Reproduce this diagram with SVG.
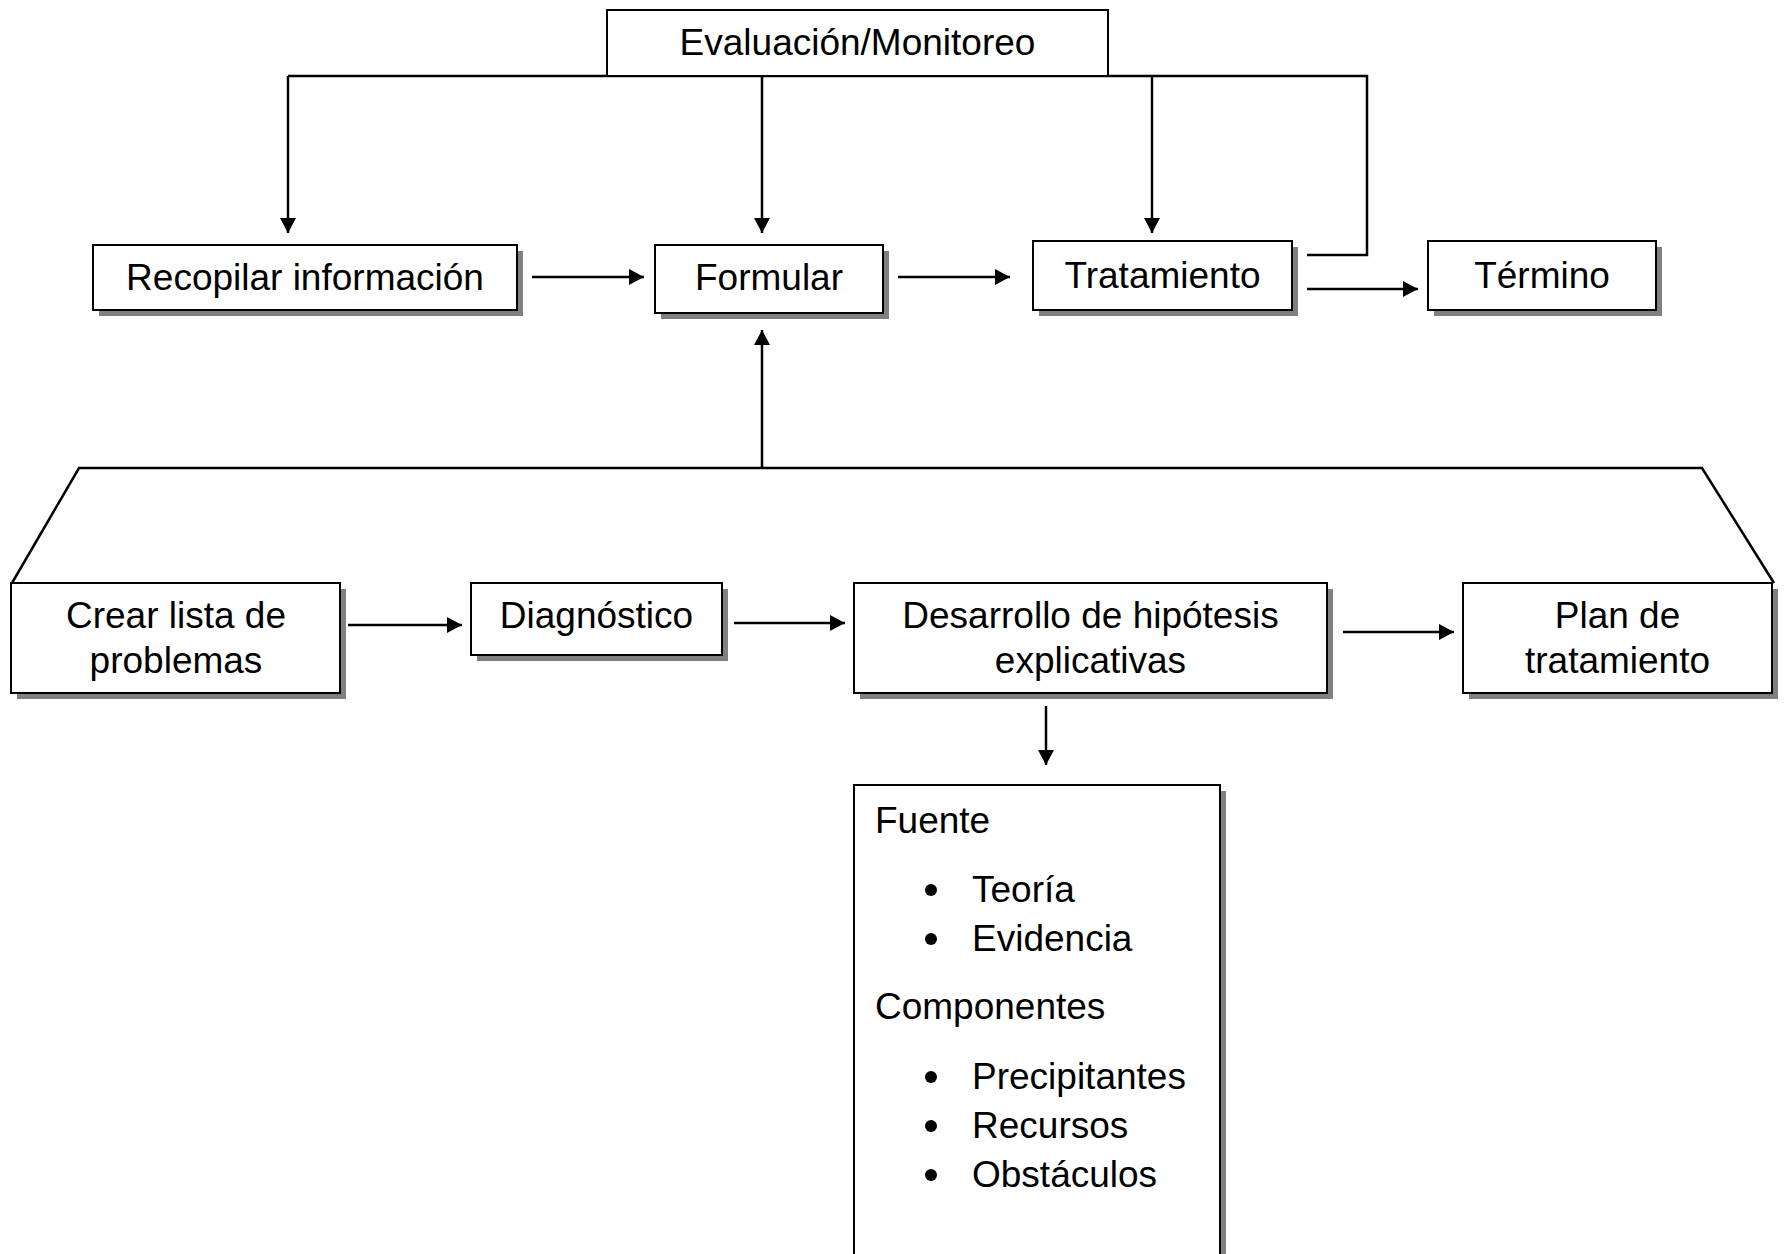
<svg xmlns="http://www.w3.org/2000/svg" width="1785" height="1254" viewBox="0 0 1785 1254">
<style>
.box{fill:#fff;stroke:#000;stroke-width:2}
.sh{fill:#808080}
.t{font-family:"Liberation Sans",Arial,sans-serif;font-size:37px;fill:#000}
.c{text-anchor:middle}
.ln{fill:none;stroke:#000;stroke-width:2.5}
</style>
<defs>
<marker id="ah" markerUnits="userSpaceOnUse" markerWidth="16" markerHeight="17" refX="15" refY="8" orient="auto">
<path d="M0,0 L15,8 L0,16 z" fill="#000"/>
</marker>
</defs>
<rect width="1785" height="1254" fill="#fff"/>
<g id="connectors">
<polyline class="ln" points="288,76 1367,76 1367,255 1307,255"/>
<line class="ln" x1="288" y1="76" x2="288" y2="233" marker-end="url(#ah)"/>
<line class="ln" x1="762" y1="76" x2="762" y2="233" marker-end="url(#ah)"/>
<line class="ln" x1="1152" y1="76" x2="1152" y2="233" marker-end="url(#ah)"/>
<line class="ln" x1="532" y1="277" x2="644" y2="277" marker-end="url(#ah)"/>
<line class="ln" x1="898" y1="277" x2="1010" y2="277" marker-end="url(#ah)"/>
<line class="ln" x1="1307" y1="289" x2="1418" y2="289" marker-end="url(#ah)"/>
<polyline class="ln" points="12,583 79,468 1702,468 1774,583"/>
<line class="ln" x1="762" y1="468" x2="762" y2="330" marker-end="url(#ah)"/>
<line class="ln" x1="348" y1="625" x2="462" y2="625" marker-end="url(#ah)"/>
<line class="ln" x1="734" y1="623" x2="845" y2="623" marker-end="url(#ah)"/>
<line class="ln" x1="1343" y1="632" x2="1454" y2="632" marker-end="url(#ah)"/>
<line class="ln" x1="1046" y1="706" x2="1046" y2="765" marker-end="url(#ah)"/>
</g>
<g id="evaluacion">
<rect class="box" x="607" y="10" width="501" height="66"/>
<text class="t c" x="857.5" y="55">Evaluación/Monitoreo</text>
</g>
<g id="recopilar">
<rect class="sh" x="99" y="251" width="424" height="65"/>
<rect class="box" x="93" y="245" width="424" height="65"/>
<text class="t c" x="305" y="290">Recopilar información</text>
</g>
<g id="formular">
<rect class="sh" x="661" y="251" width="228" height="68"/>
<rect class="box" x="655" y="245" width="228" height="68"/>
<text class="t c" x="769" y="290">Formular</text>
</g>
<g id="tratamiento">
<rect class="sh" x="1039" y="247" width="259" height="69"/>
<rect class="box" x="1033" y="241" width="259" height="69"/>
<text class="t c" x="1162.5" y="288">Tratamiento</text>
</g>
<g id="termino">
<rect class="sh" x="1434" y="247" width="228" height="69"/>
<rect class="box" x="1428" y="241" width="228" height="69"/>
<text class="t c" x="1542" y="288">Término</text>
</g>
<g id="crear">
<rect class="sh" x="17" y="589" width="329" height="110"/>
<rect class="box" x="11" y="583" width="329" height="110"/>
<text class="t c" x="176" y="628">Crear lista de</text>
<text class="t c" x="176" y="673">problemas</text>
</g>
<g id="diagnostico">
<rect class="sh" x="477" y="589" width="251" height="72"/>
<rect class="box" x="471" y="583" width="251" height="72"/>
<text class="t c" x="596.5" y="628">Diagnóstico</text>
</g>
<g id="desarrollo">
<rect class="sh" x="860" y="589" width="473" height="110"/>
<rect class="box" x="854" y="583" width="473" height="110"/>
<text class="t c" x="1090.5" y="628">Desarrollo de hipótesis</text>
<text class="t c" x="1090.5" y="673">explicativas</text>
</g>
<g id="plan">
<rect class="sh" x="1469" y="589" width="309" height="110"/>
<rect class="box" x="1463" y="583" width="309" height="110"/>
<text class="t c" x="1617.5" y="628">Plan de</text>
<text class="t c" x="1617.5" y="673">tratamiento</text>
</g>
<g id="fuente">
<rect class="sh" x="860" y="791" width="366" height="470"/>
<rect class="box" x="854" y="785" width="366" height="470"/>
<text class="t" x="875" y="833">Fuente</text>
<circle cx="931" cy="890" r="6"/>
<text class="t" x="972" y="902">Teoría</text>
<circle cx="931" cy="939" r="6"/>
<text class="t" x="972" y="951">Evidencia</text>
<text class="t" x="875" y="1019">Componentes</text>
<circle cx="931" cy="1077" r="6"/>
<text class="t" x="972" y="1089">Precipitantes</text>
<circle cx="931" cy="1126" r="6"/>
<text class="t" x="972" y="1138">Recursos</text>
<circle cx="931" cy="1175" r="6"/>
<text class="t" x="972" y="1187">Obstáculos</text>
</g>
</svg>
